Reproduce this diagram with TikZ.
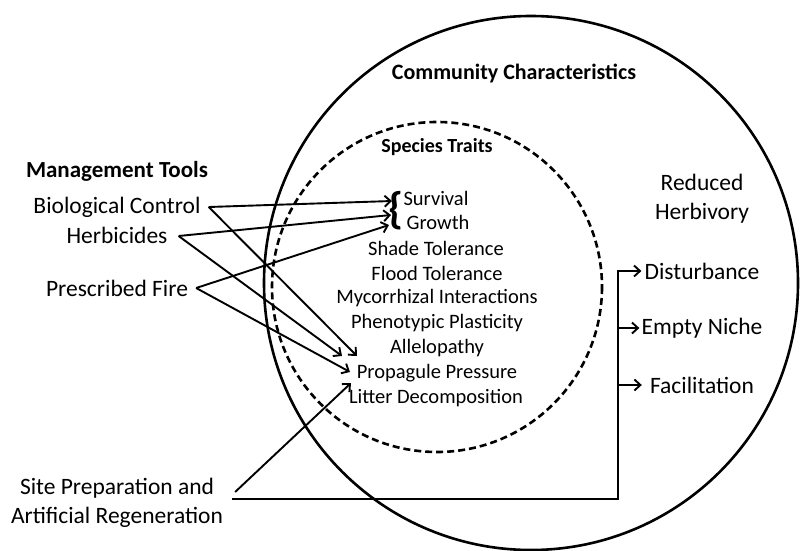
\documentclass[tikz,border=0pt]{standalone}
\usepackage{fontspec}
\setmainfont{Carlito}
\usetikzlibrary{arrows.meta}
\begin{document}
\begin{tikzpicture}[x=1pt,y=-1pt,
  lbl/.style={inner sep=0pt, font=\fontsize{23.5}{29}\selectfont},
  trait/.style={inner sep=0pt, font=\fontsize{20.5}{25}\selectfont},
  ttl/.style={inner sep=0pt, font=\bfseries\fontsize{22}{26}\selectfont},
  arr/.style={line width=1.9pt, -{Straight Barb[length=6pt,width=11pt,line width=1.9pt]}},
  ring/.style={line width=2.6pt}]
\useasboundingbox (0,0) rectangle (800,551);
\draw[ring] (531,283) circle[radius=267];
\draw[ring, dash pattern=on 7pt off 4pt] (437,287) circle[radius=165];

\node[ttl] (comm) at (514,73) {Community Characteristics};
\node[ttl, font=\bfseries\fontsize{20}{24}\selectfont] (spec) at (437,147) {Species Traits};
\node[ttl, font=\bfseries\fontsize{23}{27}\selectfont] (mgmt) at (117,171) {Management Tools};

\node[lbl] (bio) at (117,207) {Biological Control};
\node[lbl] (herb) at (117,235) {Herbicides};
\node[lbl] (fire) at (117,288) {Prescribed Fire};
\node[lbl, align=center] (site) at (117,503) {Site Preparation and\\Artificial Regeneration};

\node[inner sep=0pt, font=\bfseries\fontsize{44}{44}\selectfont] (brace) at (396,211) {\{};
\node[trait] (surv) at (436,198) {Survival};
\node[trait] (grow) at (438,222) {Growth};
\node[trait] (shade) at (436,248) {Shade Tolerance};
\node[trait] (flood) at (437,273) {Flood Tolerance};
\node[trait] (myco) at (437,298) {Mycorrhizal Interactions};
\node[trait] (pheno) at (437,323) {Phenotypic Plasticity};
\node[trait] (allelo) at (437,348) {Allelopathy};
\node[trait] (prop) at (437,373) {Propagule Pressure};
\node[trait] (litter) at (436,398) {Litter Decomposition};

\node[lbl, align=center] (herbiv) at (702,199) {Reduced\\Herbivory};
\node[lbl] (dist) at (702,271) {Disturbance};
\node[lbl] (niche) at (702,328) {Empty Niche};
\node[lbl] (facil) at (702,385) {Facilitation};

\coordinate (tS) at (392,201);
\coordinate (tG1) at (391,215);
\coordinate (tG2) at (389,225);
\coordinate (tA1) at (342,356);
\coordinate (tA2) at (357,356);
\coordinate (tP1) at (350,372);
\coordinate (tP2) at (351,383);
\coordinate (vtop) at (618,271);

\draw[arr] ([xshift=8pt]bio.east) -- (tS);
\draw[arr] ([xshift=8pt]bio.east) -- (tA2);
\draw[arr] ([xshift=11pt,yshift=-1pt]herb.east) -- (tG1);
\draw[arr] ([xshift=11pt,yshift=-1pt]herb.east) -- (tA1);
\draw[arr] ([xshift=8pt]fire.east) -- (tG2);
\draw[arr] ([xshift=8pt]fire.east) -- (tP1);
\draw[arr] ([xshift=12pt,yshift=11pt]site.east) -- (tP2);

\draw[arr] ([xshift=9pt,yshift=4pt]site.east) -| (vtop) -- ([xshift=-3pt]dist.west);
\draw[arr] (vtop |- niche.west) -- ([xshift=-2pt]niche.west);
\draw[arr] (vtop |- facil.west) -- ([xshift=-8pt]facil.west);
\end{tikzpicture}
\end{document}
